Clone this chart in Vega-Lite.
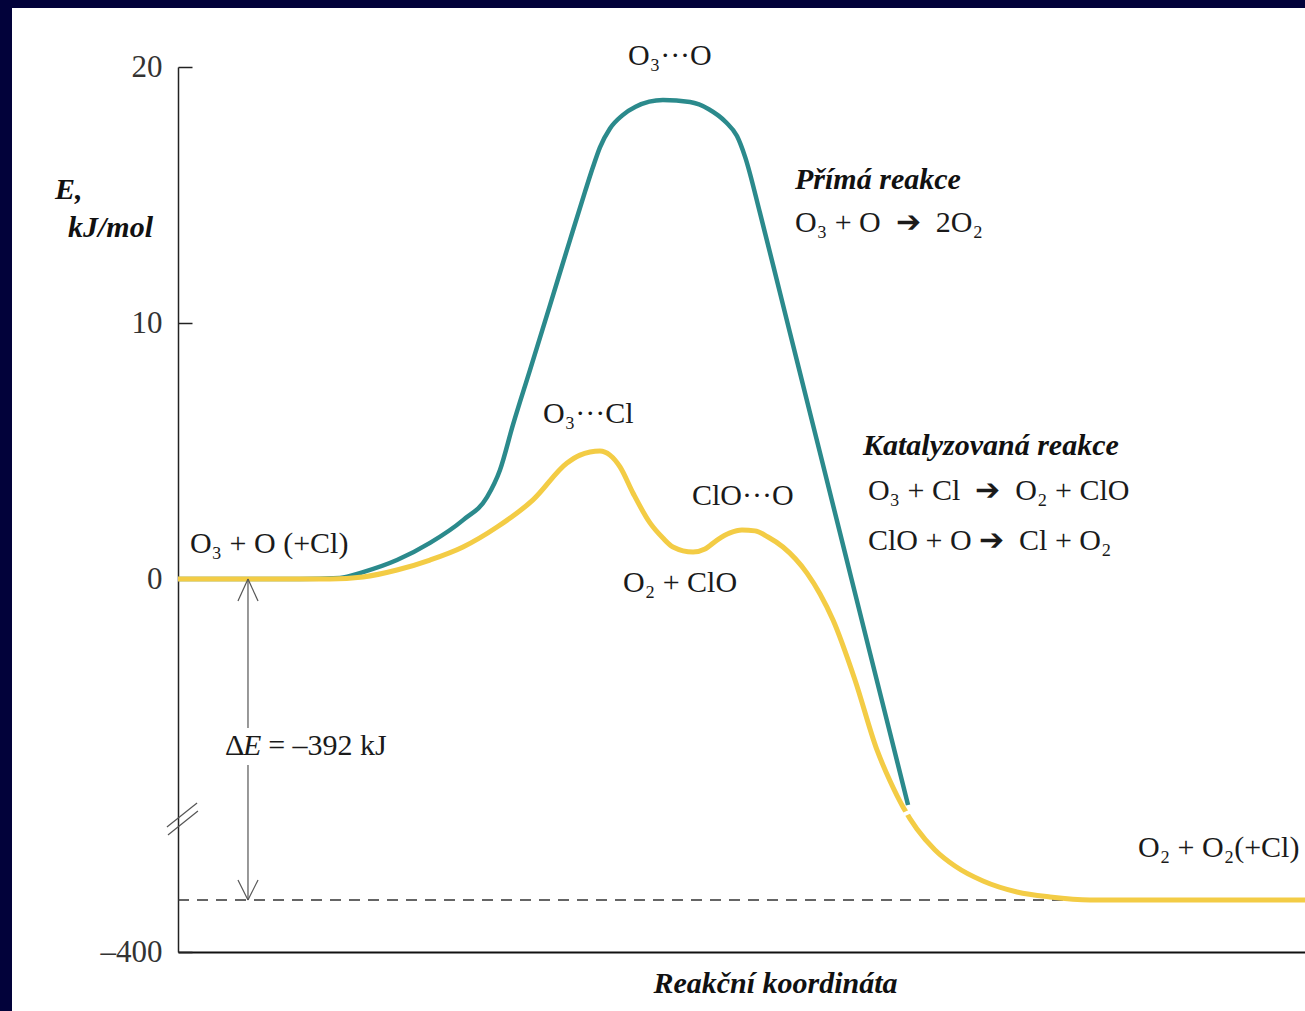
{
  "$schema": "https://vega.github.io/schema/vega-lite/v6.json",
  "width": 1293,
  "height": 1003,
  "autosize": "none",
  "padding": {"left": 12, "top": 8, "right": 0, "bottom": 0},
  "background": "#02023a",
  "config": {
    "view": {"fill": "white", "stroke": null},
    "font": "'Liberation Serif', 'Times New Roman', 'DejaVu Serif', serif"
  },
  "datasets": {
    "curves": [
      {"series": "direct", "x": 0, "y": 0},
      {"series": "direct", "x": 10.8, "y": 0},
      {"series": "direct", "x": 14.37, "y": 0.04},
      {"series": "direct", "x": 16.42, "y": 0.27},
      {"series": "direct", "x": 19.43, "y": 0.74},
      {"series": "direct", "x": 22.36, "y": 1.41},
      {"series": "direct", "x": 25.29, "y": 2.3},
      {"series": "direct", "x": 27.42, "y": 3.2},
      {"series": "direct", "x": 28.57, "y": 4.26},
      {"series": "direct", "x": 29.72, "y": 6.02},
      {"series": "direct", "x": 31.23, "y": 8.16},
      {"series": "direct", "x": 33.01, "y": 10.7},
      {"series": "direct", "x": 34.78, "y": 13.24},
      {"series": "direct", "x": 36.11, "y": 15.12},
      {"series": "direct", "x": 36.82, "y": 16.09},
      {"series": "direct", "x": 37.44, "y": 16.86},
      {"series": "direct", "x": 38.33, "y": 17.6},
      {"series": "direct", "x": 39.4, "y": 18.1},
      {"series": "direct", "x": 40.6, "y": 18.45},
      {"series": "direct", "x": 43.03, "y": 18.71},
      {"series": "direct", "x": 45.43, "y": 18.63},
      {"series": "direct", "x": 47.1, "y": 18.35},
      {"series": "direct", "x": 48.6, "y": 17.85},
      {"series": "direct", "x": 49.6, "y": 17.3},
      {"series": "direct", "x": 50.31, "y": 16.5},
      {"series": "direct", "x": 51.64, "y": 14.3},
      {"series": "direct", "x": 53.42, "y": 11.17},
      {"series": "direct", "x": 55.19, "y": 8.05},
      {"series": "direct", "x": 56.97, "y": 4.92},
      {"series": "direct", "x": 58.74, "y": 1.8},
      {"series": "direct", "x": 59.76, "y": 0},
      {"series": "direct", "x": 61.4, "y": -90.4},
      {"series": "direct", "x": 63.18, "y": -188.1},
      {"series": "direct", "x": 64.78, "y": -276.0},
      {"series": "catalyzed", "x": 0, "y": 0},
      {"series": "catalyzed", "x": 13.49, "y": 0},
      {"series": "catalyzed", "x": 16.42, "y": 0.08},
      {"series": "catalyzed", "x": 19.43, "y": 0.35},
      {"series": "catalyzed", "x": 22.36, "y": 0.74},
      {"series": "catalyzed", "x": 25.29, "y": 1.25},
      {"series": "catalyzed", "x": 28.31, "y": 2.03},
      {"series": "catalyzed", "x": 31.5, "y": 3.09},
      {"series": "catalyzed", "x": 34.52, "y": 4.53},
      {"series": "catalyzed", "x": 35.67, "y": 4.84},
      {"series": "catalyzed", "x": 36.56, "y": 4.96},
      {"series": "catalyzed", "x": 37.44, "y": 5.0},
      {"series": "catalyzed", "x": 38.33, "y": 4.84},
      {"series": "catalyzed", "x": 39.22, "y": 4.38},
      {"series": "catalyzed", "x": 40.37, "y": 3.36},
      {"series": "catalyzed", "x": 41.88, "y": 2.19},
      {"series": "catalyzed", "x": 43.03, "y": 1.6},
      {"series": "catalyzed", "x": 43.92, "y": 1.25},
      {"series": "catalyzed", "x": 45.7, "y": 1.05},
      {"series": "catalyzed", "x": 46.76, "y": 1.17},
      {"series": "catalyzed", "x": 47.83, "y": 1.52},
      {"series": "catalyzed", "x": 48.98, "y": 1.8},
      {"series": "catalyzed", "x": 50.04, "y": 1.91},
      {"series": "catalyzed", "x": 51.2, "y": 1.88},
      {"series": "catalyzed", "x": 52.35, "y": 1.64},
      {"series": "catalyzed", "x": 53.68, "y": 1.25},
      {"series": "catalyzed", "x": 55.81, "y": 0.23},
      {"series": "catalyzed", "x": 56.97, "y": -18.3},
      {"series": "catalyzed", "x": 58.12, "y": -50.1},
      {"series": "catalyzed", "x": 60.07, "y": -123.3},
      {"series": "catalyzed", "x": 62.02, "y": -208.8},
      {"series": "catalyzed", "x": 63.18, "y": -246.7},
      {"series": "catalyzed", "x": 64.33, "y": -278.4},
      {"series": "catalyzed", "x": 65.57, "y": -305.3},
      {"series": "catalyzed", "x": 67.17, "y": -330.9},
      {"series": "catalyzed", "x": 68.94, "y": -350.5},
      {"series": "catalyzed", "x": 71.43, "y": -368.8},
      {"series": "catalyzed", "x": 74.45, "y": -382.2},
      {"series": "catalyzed", "x": 77.37, "y": -388.3},
      {"series": "catalyzed", "x": 80.92, "y": -392},
      {"series": "catalyzed", "x": 100, "y": -392}
    ],
    "level": [
      {"x": 0, "y": -392},
      {"x": 80, "y": -392}
    ],
    "segments": [
      {"kind": "arrow", "x": 6.21, "y": 0, "x2": 6.21, "y2": -182},
      {"kind": "arrow", "x": 6.21, "y": -227, "x2": 6.21, "y2": -392},
      {"kind": "arrow", "x": 6.21, "y": 0, "x2": 5.32, "y2": -26.9},
      {"kind": "arrow", "x": 6.21, "y": 0, "x2": 7.1, "y2": -26.9},
      {"kind": "arrow", "x": 6.21, "y": -392, "x2": 5.32, "y2": -367.6},
      {"kind": "arrow", "x": 6.21, "y": -392, "x2": 7.1, "y2": -367.6},
      {"kind": "break", "x": -0.98, "y": -302.9, "x2": 1.69, "y2": -273.5},
      {"kind": "break", "x": -0.89, "y": -312.6, "x2": 1.77, "y2": -283.3}
    ],
    "gap": [
      {"x": 63.71, "y": -291.9, "x2": 65.66, "y2": -279.7}
    ],
    "labels": [
      {"x": 39.93, "y": 20.08, "text": "O₃···O"},
      {"x": 54.75, "y": 13.55, "text": "O₃ + O\u2002➔\u20022O₂"},
      {"x": 32.39, "y": 6.09, "text": "O₃···Cl"},
      {"x": 61.22, "y": 3.09, "text": "O₃ + Cl\u2002➔\u2002O₂ + ClO"},
      {"x": 61.22, "y": 1.13, "text": "ClO + O ➔\u2002Cl + O₂"},
      {"x": 45.61, "y": 2.89, "text": "ClO···O"},
      {"x": 39.49, "y": -15.7, "text": "O₂ + ClO"},
      {"x": 1.06, "y": 1.02, "text": "O₃ + O (+Cl)"},
      {"x": 4.17, "y": -215, "text": "Δ"},
      {"x": 8.0, "y": -215, "text": "= –392 kJ"},
      {"x": 85.18, "y": -339, "text": "O₂ + O₂(+Cl)"}
    ],
    "italicLabels": [
      {"x": 5.77, "y": -215, "text": "E"}
    ],
    "boldLabels": [
      {"x": 54.75, "y": 15.23, "text": "Přímá reakce"},
      {"x": 60.78, "y": 4.84, "text": "Katalyzovaná reakce"},
      {"x": -10.91, "y": 14.84, "text": "E,"},
      {"x": -9.76, "y": 13.36, "text": "kJ/mol"}
    ]
  },
  "encoding": {
    "x": {
      "field": "x",
      "type": "quantitative",
      "scale": {"domain": [0, 100], "range": [166, 1293], "nice": false, "zero": false},
      "axis": {
        "title": "Reakční koordináta",
        "labels": false,
        "ticks": false,
        "grid": false,
        "domainColor": "#111",
        "domainWidth": 2,
        "offset": -59,
        "titleFont": "'Liberation Serif', 'Times New Roman', serif",
        "titleFontStyle": "italic",
        "titleFontWeight": "bold",
        "titleFontSize": 30,
        "titleColor": "#111",
        "titlePadding": 16,
        "titleX": 763
      }
    },
    "y": {
      "field": "y",
      "type": "quantitative",
      "scale": {"domain": [-400, -392, 0, 20], "range": [944, 892, 571, 59], "nice": false, "zero": false},
      "axis": {
        "title": null,
        "values": [-400, 0, 10, 20],
        "grid": false,
        "offset": -166,
        "tickSize": -14,
        "tickWidth": 1.5,
        "tickColor": "#222",
        "domainColor": "#222",
        "domainWidth": 1.5,
        "labelFont": "'Liberation Serif', 'Times New Roman', serif",
        "labelFontSize": 31,
        "labelColor": "#333",
        "labelPadding": 30,
        "labelFlush": false,
        "labelOverlap": false,
        "labelExpr": "datum.value == -400 ? '–400' : datum.label"
      }
    }
  },
  "layer": [
    {
      "data": {"name": "level"},
      "mark": {"type": "line", "color": "#333", "strokeWidth": 1.5, "strokeDash": [11, 8]}
    },
    {
      "data": {"name": "curves"},
      "transform": [{"filter": "datum.series == 'direct'"}],
      "mark": {"type": "line", "color": "#2b8a8c", "strokeWidth": 4.5, "interpolate": "monotone"}
    },
    {
      "data": {"name": "curves"},
      "transform": [{"filter": "datum.series == 'catalyzed'"}],
      "mark": {"type": "line", "color": "#f3cc45", "strokeWidth": 5, "interpolate": "monotone"}
    },
    {
      "data": {"name": "gap"},
      "mark": {"type": "rule", "color": "white", "strokeWidth": 4},
      "encoding": {"x2": {"field": "x2"}, "y2": {"field": "y2"}}
    },
    {
      "data": {"name": "segments"},
      "mark": {"type": "rule", "color": "#555", "strokeWidth": 1.2},
      "encoding": {"x2": {"field": "x2"}, "y2": {"field": "y2"}}
    },
    {
      "data": {"name": "labels"},
      "mark": {"type": "text", "align": "left", "baseline": "alphabetic", "font": "'Liberation Serif', 'Times New Roman', serif", "fontSize": 30, "color": "#1a1a1a"},
      "encoding": {"text": {"field": "text"}}
    },
    {
      "data": {"name": "italicLabels"},
      "mark": {"type": "text", "align": "left", "baseline": "alphabetic", "font": "'Liberation Serif', 'Times New Roman', serif", "fontSize": 30, "fontStyle": "italic", "color": "#1a1a1a"},
      "encoding": {"text": {"field": "text"}}
    },
    {
      "data": {"name": "boldLabels"},
      "mark": {"type": "text", "align": "left", "baseline": "alphabetic", "font": "'Liberation Serif', 'Times New Roman', serif", "fontSize": 30, "fontStyle": "italic", "fontWeight": "bold", "color": "#111"},
      "encoding": {"text": {"field": "text"}}
    }
  ]
}
